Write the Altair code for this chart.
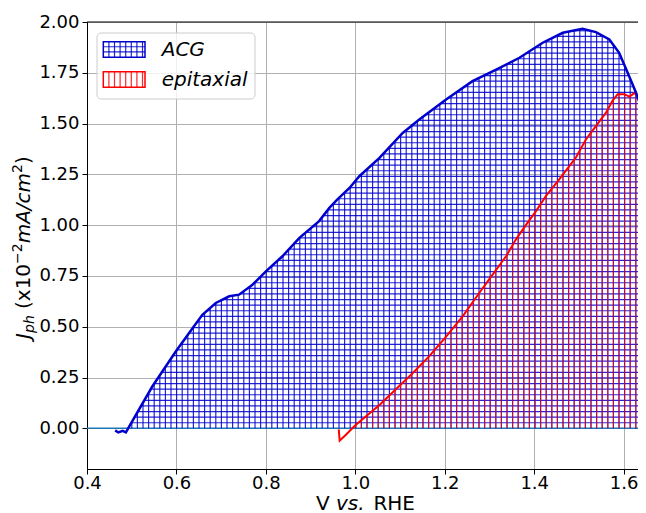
import altair as alt
import numpy as np
import pandas as pd

# ---------------- data ----------------
acg_v = [0.463, 0.470, 0.480, 0.487, 0.492, 0.546, 0.5985, 0.636, 0.658, 0.688, 0.718,
         0.740, 0.770, 0.800, 0.837, 0.875, 0.919, 0.942, 0.960, 0.987, 1.009, 1.054,
         1.106, 1.143, 1.203, 1.262, 1.315, 1.367, 1.419, 1.464, 1.508, 1.538, 1.568,
         1.590, 1.609, 1.628, 1.646, 1.660]
acg_j = [-0.010, -0.020, -0.012, -0.020, 0.000, 0.206, 0.378, 0.493, 0.559, 0.617, 0.650,
         0.658, 0.707, 0.773, 0.847, 0.9375, 1.020, 1.085, 1.127, 1.183, 1.241, 1.331,
         1.454, 1.520, 1.619, 1.709, 1.766, 1.824, 1.898, 1.947, 1.967, 1.950, 1.914,
         1.8485, 1.750, 1.651, 1.537, 1.450]

epi_v = [0.963, 0.965, 0.975, 1.000, 1.054, 1.128, 1.165, 1.203, 1.240, 1.277, 1.307,
         1.337, 1.359, 1.382, 1.404, 1.426, 1.456, 1.4785, 1.493, 1.516, 1.538, 1.5605,
         1.575, 1.5866, 1.6015, 1.613, 1.624, 1.635, 1.6485, 1.660]
epi_j = [-0.005, -0.060, -0.040, 0.015, 0.115, 0.271, 0.354, 0.452, 0.551, 0.666, 0.757,
         0.847, 0.929, 1.003, 1.069, 1.143, 1.225, 1.291, 1.332, 1.423, 1.488, 1.554,
         1.612, 1.645, 1.645, 1.633, 1.650, 1.628, 1.612, 1.600]

x_ticks = [0.4, 0.6, 0.8, 1.0, 1.2, 1.4, 1.6]
y_ticks = [0.0, 0.25, 0.5, 0.75, 1.0, 1.25, 1.5, 1.75, 2.0]
legend_labels = ["ACG", "epitaxial"]

# ---------------- layout / style ----------------
PX_PER_V = 447.2
W, H = 551, 447
X_DOMAIN = [0.4, 0.4 + W / PX_PER_V]
Y_DOMAIN = [-0.2, 2.0]
BLUE = "#0000CD"
RED = "#FF0000"
HATCH_PX = 5.6
HATCH_W = 1.2
HATCH_OP = 0.85
dv = HATCH_PX / PX_PER_V
dj = HATCH_PX / (H / (Y_DOMAIN[1] - Y_DOMAIN[0]))

xs = alt.Scale(domain=X_DOMAIN, nice=False, zero=False)
ys = alt.Scale(domain=Y_DOMAIN, nice=False, zero=False)

# ---------------- hatch geometry derived from the curves ----------------
def vertical_hatch(vs, js):
    vs = np.asarray(vs); js = np.asarray(js)
    k0 = np.ceil((vs[0] - 0.4) / dv)
    k1 = np.floor((vs[-1] - 0.4) / dv)
    xv = 0.4 + np.arange(k0, k1 + 1) * dv
    top = np.interp(xv, vs, js)
    m = top > 0
    return pd.DataFrame({"v": xv[m], "j0": 0.0, "j1": top[m]})

def horizontal_hatch(vs, js):
    dense_v = np.linspace(vs[0], vs[-1], 8000)
    dense_j = np.interp(dense_v, vs, js)
    rows = []
    k = 1
    while k * dj < max(js):
        h = k * dj
        above = (dense_j >= h).astype(int)
        edges = np.flatnonzero(np.diff(np.concatenate([[0], above, [0]])))
        for s, e in zip(edges[0::2], edges[1::2] - 1):
            rows.append({"v0": dense_v[s], "v1": dense_v[e], "j": h})
        k += 1
    return pd.DataFrame(rows)

acg_df = pd.DataFrame({"v": acg_v, "j": acg_j})
epi_df = pd.DataFrame({"v": epi_v, "j": epi_j})
acg_vh = vertical_hatch(acg_v, acg_j)
acg_hh = horizontal_hatch(acg_v, acg_j)
epi_vh = vertical_hatch(epi_v, epi_j)

x_axis = alt.Axis(values=x_ticks, format=".1f", title=None, grid=True,
                  gridColor="#b0b0b0", gridWidth=1, labelFontSize=18,
                  labelFont="DejaVu Sans", labelColor="black", domainColor="black",
                  tickColor="black", tickSize=5, labelPadding=0, labelFlush=False)
y_axis = alt.Axis(values=y_ticks, format=".2f", title=None, grid=True,
                  gridColor="#b0b0b0", gridWidth=1, labelFontSize=18,
                  labelFont="DejaVu Sans", labelColor="black", domainColor="black",
                  tickColor="black", tickSize=5, labelPadding=3, labelFlush=False)

def X(field):
    return alt.X(field, type="quantitative", scale=xs, axis=x_axis)

def Y(field):
    return alt.Y(field, type="quantitative", scale=ys, axis=y_axis)

zero_line = alt.Chart(pd.DataFrame({"a": [0.0]})).mark_rule(color="#1f77b4", strokeWidth=1.5).encode(
    x=alt.value(0), x2=alt.value(W), y=Y("a"))

acg_vert = alt.Chart(acg_vh).mark_rule(color=BLUE, strokeWidth=HATCH_W, opacity=HATCH_OP, clip=True).encode(
    x=X("v"), y=Y("j0"), y2="j1:Q")
acg_horz = alt.Chart(acg_hh).mark_rule(color=BLUE, strokeWidth=HATCH_W, opacity=HATCH_OP, clip=True).encode(
    x=X("v0"), x2="v1:Q", y=Y("j"))
epi_vert = alt.Chart(epi_vh).mark_rule(color=RED, strokeWidth=HATCH_W, opacity=0.75, clip=True).encode(
    x=X("v"), y=Y("j0"), y2="j1:Q")

acg_line = alt.Chart(acg_df).mark_line(color=BLUE, strokeWidth=2.5, clip=True).encode(
    x=X("v"), y=Y("j"))
epi_line = alt.Chart(epi_df).mark_line(color=RED, strokeWidth=2, clip=True).encode(
    x=X("v"), y=Y("j"))

top_spine = alt.Chart(pd.DataFrame({"a": [0]})).mark_rule(color="black", strokeWidth=1).encode(
    x=alt.value(0), x2=alt.value(W), y=alt.value(0))

def txt(s, x, y, size=20, italic=False, angle=0, align="left", baseline="alphabetic"):
    kw = dict(fontSize=size, font="DejaVu Sans", color="black", align=align,
              baseline=baseline, angle=angle)
    if italic:
        kw["fontStyle"] = "italic"
    return alt.Chart(pd.DataFrame({"t": [s]})).mark_text(**kw).encode(
        text="t:N", x=alt.value(x), y=alt.value(y))

# y title pieces (rotated)
YB = -57.5
ytitle = [
    txt("J", YB, 317, 20, True, 270),
    txt("ph", YB + 4, 311, 14, True, 270),
    txt("(x10", YB, 287, 20, False, 270),
    txt("\u22122", YB - 8, 241.9, 14, False, 270),
    txt("mA/cm", YB, 221.3, 20, True, 270),
    txt("2", YB - 8, 150.9, 14, False, 270),
    txt(")", YB, 142, 20, False, 270),
]
XT = 487.5
xtitle = [
    txt("V", 229, XT),
    txt("vs.", 249, XT, italic=True),
    txt("RHE", 286.4, XT),
]

# legend
legend_box = alt.Chart(pd.DataFrame({"a": [0]})).mark_rect(
    fill="white", fillOpacity=0.8, stroke="#cccccc", strokeWidth=1, cornerRadius=4).encode(
    x=alt.value(10), x2=alt.value(168), y=alt.value(11), y2=alt.value(77))

patches = [(19.7, 35.3, BLUE), (49.7, 65.3, RED)]
PX0, PX1 = 16.3, 58.0
leg_v = []
leg_h = []
for (py0, py1, col) in patches:
    xx = PX0 + HATCH_PX
    while xx < PX1 - 1:
        leg_v.append({"x": xx, "y0": py0, "y1": py1, "c": col})
        xx += HATCH_PX
    if col == BLUE:
        yy = py0 + HATCH_PX * 0.9
        while yy < py1 - 1:
            leg_h.append({"x0": PX0, "x1": PX1, "y": yy, "c": col})
            yy += HATCH_PX * 0.9
leg_v = pd.DataFrame(leg_v)
leg_h = pd.DataFrame(leg_h)

leg_vlines = alt.Chart(leg_v).mark_rule(strokeWidth=HATCH_W, opacity=HATCH_OP).encode(
    x=alt.X("x:Q", scale=None, axis=None), y=alt.Y("y0:Q", scale=None, axis=None), y2="y1:Q",
    color=alt.Color("c:N", scale=None))
leg_hlines = alt.Chart(leg_h).mark_rule(strokeWidth=HATCH_W, opacity=HATCH_OP).encode(
    x=alt.X("x0:Q", scale=None, axis=None), x2="x1:Q", y=alt.Y("y:Q", scale=None, axis=None),
    color=alt.Color("c:N", scale=None))
leg_rects = alt.Chart(pd.DataFrame({"y0": [p[0] for p in patches], "y1": [p[1] for p in patches],
                                    "c": [p[2] for p in patches]})).mark_rect(
    fillOpacity=0, strokeWidth=1.5).encode(
    x=alt.value(PX0), x2=alt.value(PX1), y=alt.Y("y0:Q", scale=None, axis=None), y2="y1:Q",
    stroke=alt.Stroke("c:N", scale=None))
leg_text = [txt(legend_labels[0], 74.7, 28, 20, True, baseline="middle"),
            txt(legend_labels[1], 74.7, 58, 20, True, baseline="middle")]

chart = alt.layer(
    zero_line, acg_vert, acg_horz, epi_vert, epi_line, acg_line, top_spine,
    *ytitle, *xtitle, legend_box, leg_vlines, leg_hlines, leg_rects, *leg_text
).properties(
    width=W, height=H,
    autosize=alt.AutoSizeParams(type="none"),
    padding={"left": 79, "top": 14, "right": 0, "bottom": 44},
).configure_view(strokeWidth=0)

chart.save("out.html", embed_options={"renderer": "svg", "actions": False})
